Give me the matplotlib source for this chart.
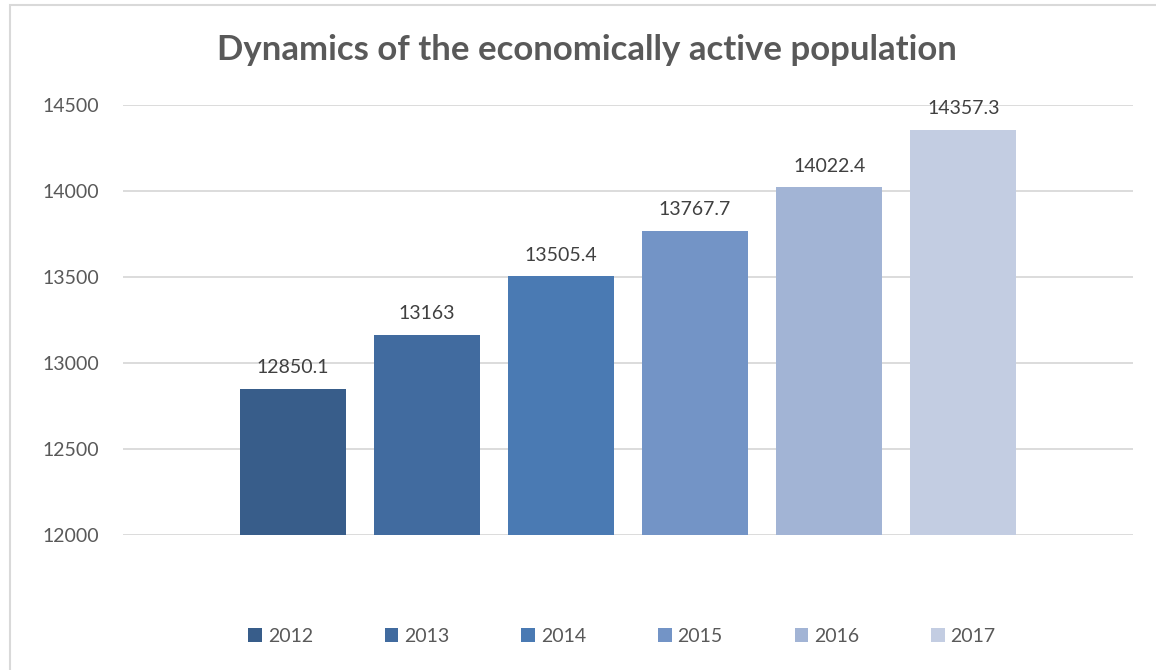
import matplotlib.pyplot as plt
from matplotlib.patches import Rectangle

years = ['2012', '2013', '2014', '2015', '2016', '2017']
values = [12850.1, 13163, 13505.4, 13767.7, 14022.4, 14357.3]
labels = ['12850.1', '13163', '13505.4', '13767.7', '14022.4', '14357.3']
colors = ['#385D8A', '#416B9F', '#4A7AB3', '#7394C6', '#A2B4D5', '#C3CDE2']

plt.rcParams['font.family'] = ['Lato', 'DejaVu Sans']

fig = plt.figure(figsize=(11.56, 6.70), dpi=100)
ax = fig.add_axes([123 / 1156, 1 - 535 / 670, (1133 - 123) / 1156, (535 - 105) / 670])

# chart border (top and left edges visible)
fig.patches.append(Rectangle((10 / 1156, -0.1), 1.2, 1 - 5 / 670 + 0.1,
                             transform=fig.transFigure, fill=False,
                             edgecolor='#D9D9D9', linewidth=1.5))

for i, (y, v, lab, c) in enumerate(zip(years, values, labels, colors)):
    ax.bar(i, v - 12000, bottom=12000, width=106 / 134, color=c, label=y, zorder=3)
    ax.annotate(lab, (i, v), xytext=(0, 9), textcoords='offset points',
                ha='center', va='bottom', fontsize=14, color='#404040')

ax.set_xlim(-1.265, 6.265)
ax.set_ylim(12000, 14500)
ax.set_yticks(range(12000, 14501, 500))
ax.set_xticks([])
ax.yaxis.grid(True, color='#D9D9D9', linewidth=1.3, zorder=0)
ax.tick_params(axis='y', length=0, labelsize=14, labelcolor='#595959', pad=17)
for s in ax.spines.values():
    s.set_visible(False)

fig.text(587 / 1156, 1 - 50 / 670, 'Dynamics of the economically active population',
         ha='center', va='center', fontsize=25, fontweight='bold', color='#595959')

fig.legend(loc='center', bbox_to_anchor=(622 / 1156, 1 - 636 / 670), ncol=6,
           frameon=False, fontsize=14, labelcolor='#595959',
           handlelength=0.7, handleheight=0.7, handletextpad=0.3, columnspacing=3.7)

fig.savefig('out.png', dpi=100, facecolor='white')
